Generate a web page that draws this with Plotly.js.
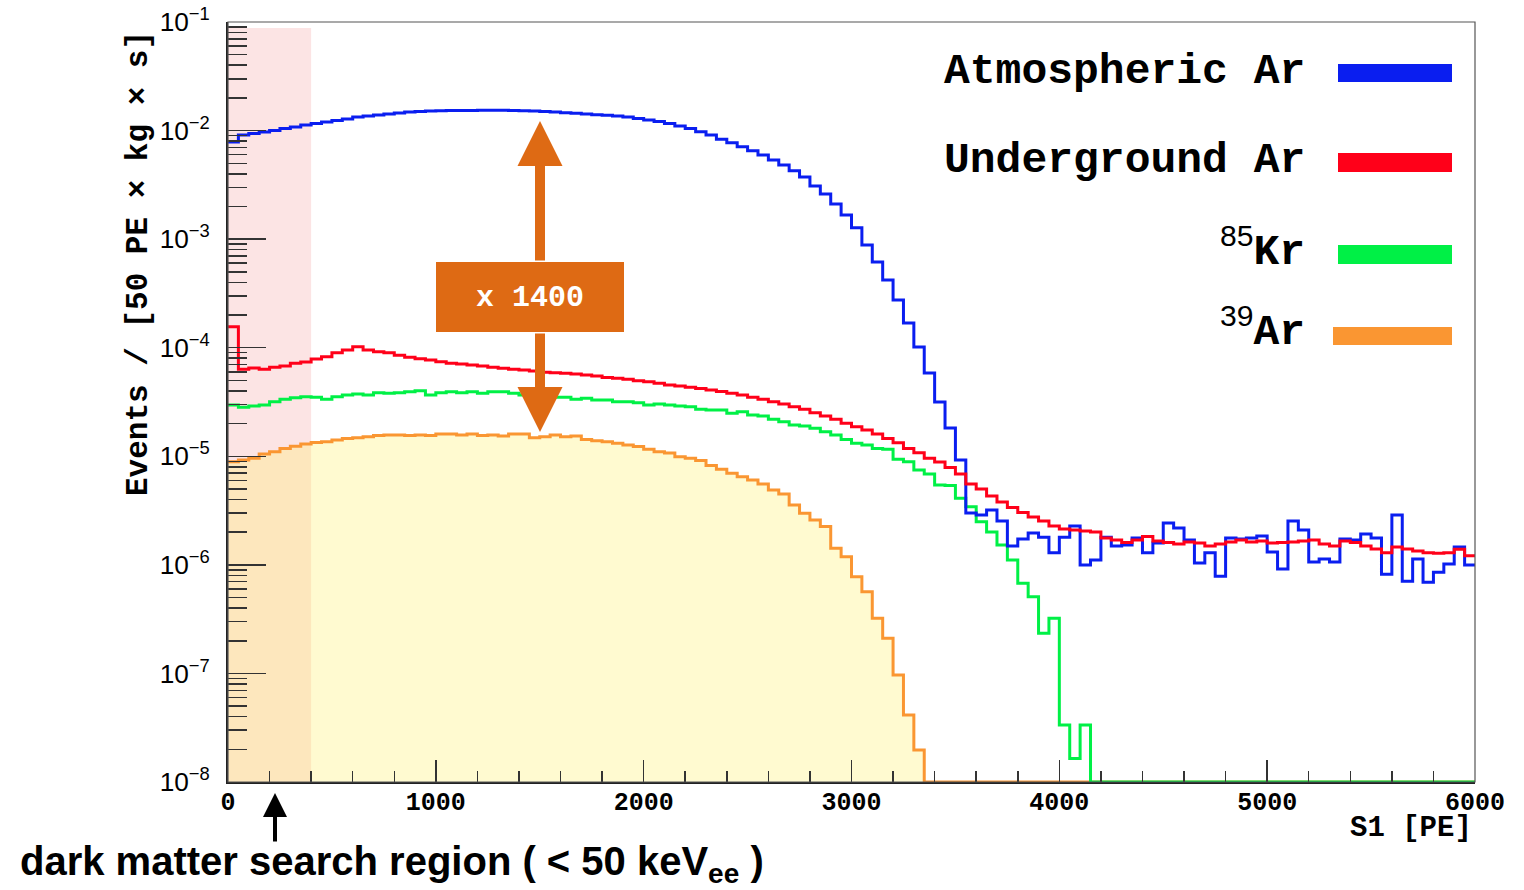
<!DOCTYPE html>
<html>
<head>
<meta charset="utf-8">
<script src="https://cdn.plot.ly/plotly-3.0.1.min.js"></script>
<style>html,body{margin:0;padding:0;background:#fff;}#chart{width:1524px;height:890px;}</style>
</head>
<body>
<div id="chart"></div>
<script>
// ---- data: events / [50 PE x kg x s] per 50 PE bin of S1 ----
const binWidth = 50;
const nBins = 120;
const xTickVals = [0, 1000, 2000, 3000, 4000, 5000, 6000];
const xTickText = ["0", "1000", "2000", "3000", "4000", "5000", "6000"];
const seriesNames = ["Atmospheric Ar", "Underground Ar", "<sup>85</sup>Kr", "<sup>39</sup>Ar"];

const atmAr = [7.85e-3, 9.10e-3, 9.40e-3, 9.70e-3, 1.00e-2, 1.045e-2, 1.079e-2, 1.125e-2, 1.162e-2, 1.199e-2,
 1.238e-2, 1.278e-2, 1.334e-2, 1.362e-2, 1.391e-2, 1.421e-2, 1.452e-2, 1.483e-2, 1.499e-2, 1.515e-2,
 1.524e-2, 1.531e-2, 1.531e-2, 1.531e-2, 1.538e-2, 1.538e-2, 1.538e-2, 1.531e-2, 1.524e-2, 1.515e-2,
 1.499e-2, 1.483e-2, 1.461e-2, 1.443e-2, 1.421e-2, 1.400e-2, 1.382e-2, 1.362e-2, 1.334e-2, 1.292e-2,
 1.252e-2, 1.212e-2, 1.162e-2, 1.102e-2, 1.045e-2, 9.76e-3, 9.10e-3, 8.31e-3, 7.73e-3, 7.10e-3,
 6.53e-3, 5.96e-3, 5.36e-3, 4.82e-3, 4.27e-3, 3.74e-3, 3.09e-3, 2.60e-3, 2.11e-3, 1.67e-3,
 1.27e-3, 8.83e-4, 6.16e-4, 4.20e-4, 2.75e-4, 1.69e-4, 1.015e-4, 5.85e-5, 3.16e-5, 1.82e-5,
 9.24e-6, 3.00e-6, 2.88e-6, 3.20e-6, 2.53e-6, 1.49e-6, 1.73e-6, 1.97e-6, 1.80e-6, 1.29e-6,
 1.80e-6, 2.28e-6, 9.97e-7, 1.11e-6, 1.80e-6, 1.49e-6, 1.52e-6, 1.77e-6, 1.29e-6, 1.59e-6,
 2.43e-6, 2.18e-6, 1.69e-6, 1.04e-6, 1.29e-6, 7.87e-7, 1.77e-6, 1.73e-6, 1.77e-6, 1.84e-6,
 1.31e-6, 9.16e-7, 2.53e-6, 2.09e-6, 1.06e-6, 1.13e-6, 1.06e-6, 1.73e-6, 1.69e-6, 1.92e-6,
 1.77e-6, 8.21e-7, 2.88e-6, 7.08e-7, 1.13e-6, 6.93e-7, 8.57e-7, 1.02e-6, 1.46e-6, 9.97e-7];

const ugAr = [1.56e-4, 6.32e-5, 6.50e-5, 6.32e-5, 6.60e-5, 6.78e-5, 7.18e-5, 7.38e-5, 7.87e-5, 8.27e-5,
 8.99e-5, 9.52e-5, 1.02e-4, 9.52e-5, 9.19e-5, 8.99e-5, 8.51e-5, 8.16e-5, 7.92e-5, 7.70e-5,
 7.43e-5, 7.18e-5, 7.08e-5, 6.93e-5, 6.78e-5, 6.60e-5, 6.46e-5, 6.32e-5, 6.23e-5, 6.10e-5,
 5.93e-5, 5.88e-5, 5.81e-5, 5.72e-5, 5.60e-5, 5.48e-5, 5.33e-5, 5.22e-5, 5.12e-5, 4.97e-5,
 4.86e-5, 4.70e-5, 4.53e-5, 4.44e-5, 4.32e-5, 4.21e-5, 4.08e-5, 3.95e-5, 3.80e-5, 3.67e-5,
 3.49e-5, 3.35e-5, 3.18e-5, 3.03e-5, 2.86e-5, 2.71e-5, 2.52e-5, 2.35e-5, 2.19e-5, 2.01e-5,
 1.87e-5, 1.75e-5, 1.60e-5, 1.46e-5, 1.33e-5, 1.18e-5, 1.08e-5, 9.58e-6, 8.86e-6, 7.88e-6,
 6.87e-6, 5.55e-6, 5.00e-6, 4.31e-6, 3.79e-6, 3.37e-6, 3.03e-6, 2.76e-6, 2.53e-6, 2.28e-6,
 2.14e-6, 2.09e-6, 2.05e-6, 2.01e-6, 1.77e-6, 1.69e-6, 1.61e-6, 1.69e-6, 1.82e-6, 1.66e-6,
 1.61e-6, 1.56e-6, 1.62e-6, 1.59e-6, 1.49e-6, 1.56e-6, 1.62e-6, 1.69e-6, 1.62e-6, 1.66e-6,
 1.59e-6, 1.61e-6, 1.62e-6, 1.66e-6, 1.69e-6, 1.56e-6, 1.49e-6, 1.66e-6, 1.61e-6, 1.49e-6,
 1.40e-6, 1.29e-6, 1.46e-6, 1.40e-6, 1.34e-6, 1.29e-6, 1.28e-6, 1.29e-6, 1.39e-6, 1.21e-6];

const kr85 = [2.97e-5, 2.83e-5, 2.90e-5, 2.97e-5, 3.18e-5, 3.35e-5, 3.46e-5, 3.54e-5, 3.49e-5, 3.35e-5,
 3.54e-5, 3.67e-5, 3.75e-5, 3.67e-5, 3.85e-5, 3.80e-5, 3.85e-5, 3.93e-5, 4.02e-5, 3.67e-5,
 3.85e-5, 3.93e-5, 3.85e-5, 3.93e-5, 3.80e-5, 3.93e-5, 3.93e-5, 3.80e-5, 3.67e-5, 3.67e-5,
 3.59e-5, 3.49e-5, 3.49e-5, 3.35e-5, 3.42e-5, 3.30e-5, 3.30e-5, 3.18e-5, 3.18e-5, 3.11e-5,
 2.97e-5, 3.03e-5, 2.97e-5, 2.90e-5, 2.86e-5, 2.71e-5, 2.67e-5, 2.67e-5, 2.49e-5, 2.57e-5,
 2.40e-5, 2.35e-5, 2.19e-5, 2.08e-5, 1.94e-5, 1.90e-5, 1.81e-5, 1.68e-5, 1.57e-5, 1.43e-5,
 1.32e-5, 1.27e-5, 1.18e-5, 1.16e-5, 9.38e-6, 8.91e-6, 7.47e-6, 6.87e-6, 5.44e-6, 5.38e-6,
 4.10e-6, 3.43e-6, 2.50e-6, 2.01e-6, 1.52e-6, 1.11e-6, 6.76e-7, 5.09e-7, 2.34e-7, 3.22e-7,
 3.35e-8, 1.65e-8, 3.35e-8, 0, 0, 0, 0, 0, 0, 0,
 0, 0, 0, 0, 0, 0, 0, 0, 0, 0,
 0, 0, 0, 0, 0, 0, 0, 0, 0, 0,
 0, 0, 0, 0, 0, 0, 0, 0, 0, 0];

const ar39 = [8.91e-6, 9.24e-6, 9.58e-6, 1.05e-5, 1.10e-5, 1.18e-5, 1.24e-5, 1.30e-5, 1.34e-5, 1.36e-5,
 1.41e-5, 1.46e-5, 1.48e-5, 1.51e-5, 1.55e-5, 1.57e-5, 1.57e-5, 1.55e-5, 1.57e-5, 1.55e-5,
 1.60e-5, 1.60e-5, 1.57e-5, 1.60e-5, 1.55e-5, 1.57e-5, 1.54e-5, 1.60e-5, 1.60e-5, 1.48e-5,
 1.51e-5, 1.57e-5, 1.51e-5, 1.54e-5, 1.43e-5, 1.39e-5, 1.36e-5, 1.32e-5, 1.27e-5, 1.23e-5,
 1.16e-5, 1.10e-5, 1.07e-5, 9.91e-6, 9.58e-6, 9.14e-6, 8.22e-6, 7.59e-6, 6.97e-6, 6.48e-6,
 6.05e-6, 5.55e-6, 4.89e-6, 4.49e-6, 3.56e-6, 2.98e-6, 2.59e-6, 2.25e-6, 1.42e-6, 1.19e-6,
 7.78e-7, 5.66e-7, 3.22e-7, 2.11e-7, 9.67e-8, 4.14e-8, 1.97e-8, 0, 0, 0,
 0, 0, 0, 0, 0, 0, 0, 0, 0, 0,
 0, 0, 0, 0, 0, 0, 0, 0, 0, 0,
 0, 0, 0, 0, 0, 0, 0, 0, 0, 0,
 0, 0, 0, 0, 0, 0, 0, 0, 0, 0,
 0, 0, 0, 0, 0, 0, 0, 0, 0, 0];

const searchRegionMax = 400;   // PE
const ratioLabel = "x 1400";

// ---- styling ----
const colors = {atm: "#0a1ef0", ug: "#ff0019", kr: "#00f046", ar: "#fa9632"};
const yLogMin = -8, yLogMax = -1;
const yFloor = Math.pow(10, yLogMin);

// plot box in page pixels
const L = 228, R = 1475, T = 22, B = 782;
const W = 1524, H = 890;
function pxX(p) { return (p - L) / (R - L); }
function pxY(p) { return (B - p) / (B - T); }

const edges = [];
for (let i = 0; i <= nBins; i++) edges.push(i * binWidth);
function stepY(vals) {
  const v = vals.map(d => d > 0 ? d : yFloor);
  v.push(v[v.length - 1]);
  return v;
}
function stepTrace(vals, color, extra) {
  return Object.assign({
    x: edges, y: stepY(vals), type: "scatter", mode: "lines",
    line: {shape: "hv", color: color, width: 3},
    hoverinfo: "skip", showlegend: false
  }, extra || {});
}

const traces = [
  stepTrace(ar39, colors.ar, {fill: "tozeroy", fillcolor: "rgba(255,240,100,0.30)"}),
  stepTrace(kr85, colors.kr),
  stepTrace(atmAr, colors.atm),
  stepTrace(ugAr, colors.ug)
];

const mono = "Liberation Mono, DejaVu Sans Mono, monospace";
const sans = "Liberation Sans, Arial, sans-serif";
const orange = "#de6a14";

const shapes = [
  // dark matter search region band
  {type: "rect", xref: "x", yref: "paper", x0: 0, x1: searchRegionMax, y0: 0, y1: pxY(28),
   fillcolor: "rgba(240,120,120,0.20)", line: {width: 0}, layer: "below"},
  // frame
  {type: "rect", xref: "paper", yref: "paper", x0: 0, x1: 1, y0: 0, y1: 1,
   line: {color: "#555", width: 1.2}, layer: "above"},
  // ratio box
  {type: "rect", xref: "paper", yref: "paper", x0: pxX(436), x1: pxX(624), y0: pxY(332), y1: pxY(262),
   fillcolor: orange, line: {width: 0}, layer: "above"},
  // legend swatches
  {type: "rect", xref: "paper", yref: "paper", x0: pxX(1338), x1: pxX(1452), y0: pxY(82), y1: pxY(64), fillcolor: colors.atm, line: {width: 0}, layer: "above"},
  {type: "rect", xref: "paper", yref: "paper", x0: pxX(1338), x1: pxX(1452), y0: pxY(172), y1: pxY(153), fillcolor: colors.ug, line: {width: 0}, layer: "above"},
  {type: "rect", xref: "paper", yref: "paper", x0: pxX(1338), x1: pxX(1452), y0: pxY(264), y1: pxY(245), fillcolor: colors.kr, line: {width: 0}, layer: "above"},
  {type: "rect", xref: "paper", yref: "paper", x0: pxX(1333), x1: pxX(1452), y0: pxY(345), y1: pxY(327), fillcolor: colors.ar, line: {width: 0}, layer: "above"}
];

const legFont = {family: mono, size: 43, color: "#000", weight: "bold"};
const supStyle = 'style="font-family:Liberation Sans, Arial, sans-serif;font-weight:normal"';
const annotations = [
  // y title
  {xref: "paper", yref: "paper", x: pxX(138), y: pxY(264), text: "Events / [50 PE × kg × s]",
   textangle: -90, showarrow: false, xanchor: "center", yanchor: "middle",
   font: {family: mono, size: 31, color: "#000", weight: "bold"}},
  // x title
  {xref: "paper", yref: "paper", x: pxX(1474), y: pxY(828), text: "S1 [PE]", showarrow: false,
   xanchor: "right", yanchor: "middle", font: {family: mono, size: 29, color: "#000", weight: "bold"}},
  // legend
  {xref: "paper", yref: "paper", x: pxX(1307), y: pxY(71), text: seriesNames[0], showarrow: false,
   xanchor: "right", yanchor: "middle", font: legFont},
  {xref: "paper", yref: "paper", x: pxX(1307), y: pxY(161), text: seriesNames[1], showarrow: false,
   xanchor: "right", yanchor: "middle", font: legFont},
  {xref: "paper", yref: "paper", x: pxX(1307), y: pxY(248), text: '<span ' + supStyle + '><sup>85</sup></span>Kr', showarrow: false,
   xanchor: "right", yanchor: "middle", font: legFont},
  {xref: "paper", yref: "paper", x: pxX(1307), y: pxY(328), text: '<span ' + supStyle + '><sup>39</sup></span>Ar', showarrow: false,
   xanchor: "right", yanchor: "middle", font: legFont},
  // ratio arrows + label
  {xref: "paper", yref: "paper", x: pxX(540), y: pxY(121), ax: 0, ay: 141, text: "", showarrow: true,
   arrowhead: 2, arrowsize: 0.9, arrowwidth: 10, arrowcolor: orange},
  {xref: "paper", yref: "paper", x: pxX(540), y: pxY(432), ax: 0, ay: -100, text: "", showarrow: true,
   arrowhead: 2, arrowsize: 0.9, arrowwidth: 10, arrowcolor: orange},
  {xref: "paper", yref: "paper", x: pxX(530), y: pxY(298), text: ratioLabel, showarrow: false,
   xanchor: "center", yanchor: "middle", font: {family: mono, size: 30, color: "#fff", weight: "bold"}},
  // search region arrow + label
  {xref: "paper", yref: "paper", x: pxX(275), y: pxY(793), ax: 0, ay: 50, text: "", showarrow: true,
   arrowhead: 2, arrowsize: 1.2, arrowwidth: 4, arrowcolor: "#000"},
  {xref: "paper", yref: "paper", x: pxX(18), y: pxY(864), text: "dark matter search region ( &lt; 50 keV<sub>ee</sub> )",
   showarrow: false, xanchor: "left", yanchor: "middle",
   font: {family: sans, size: 40, color: "#000", weight: "bold"}}
];

const layout = {
  width: W, height: H,
  margin: {l: L, r: W - R, t: T, b: H - B, pad: 0},
  paper_bgcolor: "#fff", plot_bgcolor: "#fff",
  showlegend: false,
  xaxis: {
    range: [0, nBins * binWidth], type: "linear",
    tickvals: xTickVals, ticktext: xTickText,
    ticks: "inside", ticklen: 22, tickwidth: 1.5, tickcolor: "#333",
    minor: {dtick: 200, ticks: "inside", ticklen: 11, tickwidth: 1.5, tickcolor: "#333", showgrid: false},
    showline: true, linecolor: "#222", linewidth: 2,
    showgrid: false, zeroline: false,
    tickfont: {family: mono, size: 25, color: "#000", weight: "bold"},
    ticklabelstandoff: -4
  },
  yaxis: {
    type: "log", range: [yLogMin, yLogMax],
    dtick: 1, exponentformat: "power",
    ticks: "inside", ticklen: 38, tickwidth: 1.5, tickcolor: "#333",
    minor: {dtick: "D1", ticks: "inside", ticklen: 19, tickwidth: 1.5, tickcolor: "#333", showgrid: false},
    showline: true, linecolor: "#222", linewidth: 2,
    showgrid: false, zeroline: false,
    tickfont: {family: sans, size: 21, color: "#000"},
    ticklabelstandoff: 12
  },
  shapes: shapes,
  annotations: annotations
};

Plotly.newPlot("chart", traces, layout, {displayModeBar: false, staticPlot: true});
</script>
</body>
</html>
